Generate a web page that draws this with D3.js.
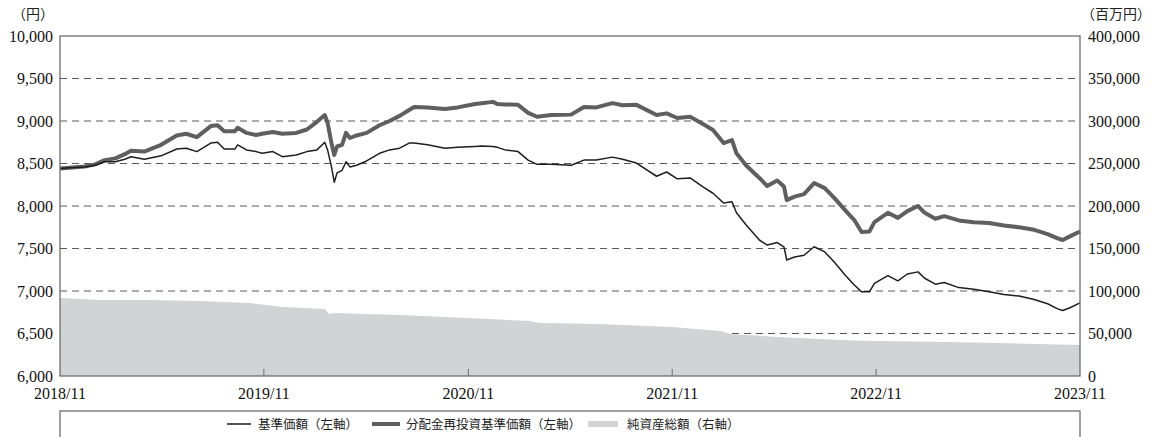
<!DOCTYPE html>
<html>
<head>
<meta charset="utf-8">
<script src="https://cdn.jsdelivr.net/npm/d3@7"></script>
<style>
  body { margin: 0; background: #fff; }
  text { font-family: "Liberation Serif", "DejaVu Serif", serif; fill: #111; }
  .jp { font-family: "Noto Sans CJK JP", sans-serif; fill: #222; }
</style>
</head>
<body>
<script>
var dates = ["2018-11-01","2018-11-18","2018-12-15","2019-01-03","2019-01-20","2019-02-08","2019-02-25","2019-03-08","2019-04-01","2019-05-01",
	"2019-05-29","2019-06-15","2019-07-04","2019-07-29","2019-08-10","2019-08-22","2019-09-10","2019-09-15","2019-10-01","2019-10-18",
	"2019-10-29","2019-11-17","2019-12-04","2019-12-29","2020-01-17","2020-02-04","2020-02-18","2020-02-23","2020-03-01","2020-03-06",
	"2020-03-11","2020-03-20","2020-03-27","2020-04-03","2020-04-15","2020-05-03","2020-05-26","2020-06-13","2020-07-01","2020-07-18",
	"2020-07-27","2020-08-20","2020-09-20","2020-10-13","2020-11-13","2020-11-25","2020-12-15","2020-12-23","2021-01-06","2021-01-29",
	"2021-02-16","2021-03-04","2021-03-29","2021-05-04","2021-05-27","2021-06-18","2021-07-17","2021-08-04","2021-08-29","2021-10-04",
	"2021-10-22","2021-11-10","2021-12-03","2021-12-26","2022-01-13","2022-02-01","2022-02-16","2022-02-24","2022-03-13","2022-04-06",
	"2022-04-20","2022-05-08","2022-05-20","2022-05-25","2022-06-08","2022-06-25","2022-07-13","2022-08-01","2022-08-18","2022-09-06",
	"2022-09-23","2022-10-06","2022-10-20","2022-10-29","2022-11-22","2022-12-10","2022-12-27","2023-01-15","2023-01-27","2023-02-15",
	"2023-03-03","2023-03-29","2023-04-25","2023-05-22","2023-06-18","2023-07-15","2023-08-11","2023-09-04","2023-09-22","2023-10-01",
	"2023-10-13","2023-11-01"];

// 基準価額 (yen)
var navValues = [8440,8450,8460,8480,8520,8520,8550,8580,8550,8590,
	8670,8680,8640,8740,8750,8670,8670,8720,8660,8640,
	8620,8640,8580,8600,8640,8660,8750,8660,8460,8280,
	8390,8420,8520,8460,8480,8530,8620,8660,8680,8740,
	8740,8720,8680,8690,8700,8705,8700,8690,8660,8640,
	8540,8490,8490,8480,8540,8540,8575,8550,8505,8350,
	8400,8320,8330,8225,8150,8035,8050,7920,7780,7600,
	7540,7570,7520,7365,7400,7420,7520,7460,7340,7190,
	7070,6990,6990,7090,7180,7120,7200,7225,7150,7080,
	7100,7040,7020,6990,6960,6940,6900,6850,6790,6770,
	6800,6860];

// 分配金再投資基準価額 (yen)
var reinvValues = [8440,8450,8465,8490,8540,8560,8610,8650,8640,8720,
	8830,8850,8810,8940,8950,8880,8880,8920,8860,8835,
	8850,8870,8850,8860,8900,8990,9070,8980,8740,8600,
	8700,8720,8860,8800,8830,8860,8950,9000,9060,9130,
	9165,9160,9140,9160,9200,9210,9225,9200,9195,9190,
	9095,9050,9070,9075,9165,9160,9210,9185,9190,9070,
	9090,9035,9050,8965,8895,8740,8775,8620,8480,8330,
	8235,8300,8230,8070,8110,8140,8270,8210,8095,7955,
	7835,7695,7700,7810,7920,7860,7940,8000,7920,7850,
	7880,7830,7810,7800,7770,7750,7720,7670,7620,7600,
	7640,7700];

// 純資産総額 (million yen)
var assetDates = ["2018-11-01","2019-01-11","2019-04-09","2019-07-08","2019-10-06","2019-12-04","2020-02-18","2020-02-26","2020-03-06","2020-07-01",
	"2020-11-01","2021-02-20","2021-03-08","2021-06-24","2021-11-01","2022-01-26","2022-02-13","2022-05-11","2022-06-16","2022-08-27",
	"2022-11-01","2023-03-11","2023-06-09","2023-11-01"];
var assetValues = [91800,89400,89400,88200,85900,81200,78800,72900,74100,71800,
	68200,64700,62400,61200,57600,52900,49400,45900,44700,42400,
	41200,40000,38800,36500];

var leftTicks = [6000,6500,7000,7500,8000,8500,9000,9500,10000],
	rightTicks = [0,50000,100000,150000,200000,250000,300000,350000,400000],
	xTickDates = ["2018-11-01","2019-11-01","2020-11-01","2021-11-01","2022-11-01","2023-11-01"],
	legendNames = ["基準価額（左軸）","分配金再投資基準価額（左軸）","純資産総額（右軸）"];

var width = 1157,
	height = 437,
	lPad = 60,
	rPad = 77,
	tPad = 36,
	plotBottom = 376,
	frameColor = "#6e6e6e";

var parse = d3.timeParse("%Y-%m-%d");
var fmt = d3.format(",");

var nav = dates.map(function(d, i) { return {date: parse(d), v: navValues[i]}; });
var reinv = dates.map(function(d, i) { return {date: parse(d), v: reinvValues[i]}; });
var assets = assetDates.map(function(d, i) { return {date: parse(d), v: assetValues[i]}; });

var xScale = d3.scaleTime()
	.domain([parse(xTickDates[0]), parse(xTickDates[xTickDates.length-1])])
	.range([lPad, width - rPad]);
var yLeft = d3.scaleLinear().domain([6000, 10000]).range([plotBottom, tPad]);
var yRight = d3.scaleLinear().domain([0, 400000]).range([plotBottom, tPad]);

var svg = d3.select("body").append("svg")
	.attr("width", width)
	.attr("height", height);

// dashed grid
svg.append("g").selectAll("line")
	.data(leftTicks.slice(1, -1))
	.enter().append("line")
	.attr("x1", lPad).attr("x2", width - rPad)
	.attr("y1", function(d) { return yLeft(d); })
	.attr("y2", function(d) { return yLeft(d); })
	.style("stroke", "#5a5a5a")
	.style("stroke-width", 1)
	.style("stroke-dasharray", "7,5");

// net assets area
svg.append("path")
	.datum(assets)
	.attr("d", d3.area()
		.x(function(d) { return xScale(d.date); })
		.y0(yRight(0))
		.y1(function(d) { return yRight(d.v); }))
	.style("fill", "#d2d3d5");

// lines
svg.append("path")
	.datum(reinv)
	.attr("d", d3.line()
		.x(function(d) { return xScale(d.date); })
		.y(function(d) { return yLeft(d.v); }))
	.style("fill", "none")
	.style("stroke", "#5f5f5f")
	.style("stroke-width", 4)
	.style("stroke-linejoin", "round");

svg.append("path")
	.datum(nav)
	.attr("d", d3.line()
		.x(function(d) { return xScale(d.date); })
		.y(function(d) { return yLeft(d.v); }))
	.style("fill", "none")
	.style("stroke", "#1e1e1e")
	.style("stroke-width", 1.5)
	.style("stroke-linejoin", "round");

// x ticks (short, pointing up)
svg.append("g").selectAll("line")
	.data(xTickDates.slice(1, -1))
	.enter().append("line")
	.attr("x1", function(d) { return xScale(parse(d)); })
	.attr("x2", function(d) { return xScale(parse(d)); })
	.attr("y1", plotBottom).attr("y2", plotBottom - 7)
	.style("stroke", frameColor)
	.style("stroke-width", 1);

// frame
svg.append("rect")
	.attr("x", lPad).attr("y", tPad)
	.attr("width", width - rPad - lPad)
	.attr("height", plotBottom - tPad)
	.style("fill", "none")
	.style("stroke", frameColor)
	.style("stroke-width", 1.3);

// left axis labels
svg.append("g").selectAll("text")
	.data(leftTicks)
	.enter().append("text")
	.attr("x", lPad - 7)
	.attr("y", function(d) { return yLeft(d) + 5.5; })
	.style("text-anchor", "end")
	.style("font-size", "16px")
	.text(function(d) { return fmt(d); });

// right axis labels
svg.append("g").selectAll("text")
	.data(rightTicks)
	.enter().append("text")
	.attr("x", width - rPad + 8)
	.attr("y", function(d) { return yRight(d) + 5.5; })
	.style("text-anchor", "start")
	.style("font-size", "16px")
	.text(function(d) { return fmt(d); });

// x labels
svg.append("g").selectAll("text")
	.data(xTickDates)
	.enter().append("text")
	.attr("x", function(d) { return xScale(parse(d)); })
	.attr("y", 399)
	.style("text-anchor", "middle")
	.style("font-size", "16px")
	.text(function(d) { return d.slice(0, 4) + "/" + d.slice(5, 7); });

// units
svg.append("text").attr("class", "jp")
	.attr("x", 54).attr("y", 19)
	.style("text-anchor", "end")
	.style("font-size", "14px")
	.text("（円）");
svg.append("text").attr("class", "jp")
	.attr("x", 1081).attr("y", 19)
	.style("text-anchor", "start")
	.style("font-size", "14px")
	.text("（百万円）");

// legend
svg.append("rect")
	.attr("x", lPad).attr("y", 411)
	.attr("width", width - rPad - lPad)
	.attr("height", 40)
	.style("fill", "none")
	.style("stroke", frameColor)
	.style("stroke-width", 1.3);

var ly = 424;
svg.append("line")
	.attr("x1", 227).attr("x2", 251).attr("y1", ly).attr("y2", ly)
	.style("stroke", "#1e1e1e").style("stroke-width", 1.5);
svg.append("line")
	.attr("x1", 372).attr("x2", 400).attr("y1", ly).attr("y2", ly)
	.style("stroke", "#5f5f5f").style("stroke-width", 4);
svg.append("rect")
	.attr("x", 588).attr("y", ly - 3).attr("width", 30).attr("height", 6)
	.style("fill", "#d2d3d5");

var legendX = [258, 406, 627];
for (var i = 0; i < legendNames.length; i++) {
	svg.append("text").attr("class", "jp")
		.attr("x", legendX[i]).attr("y", ly + 4.5)
		.style("font-size", "12.5px")
		.text(legendNames[i]);
}
</script>
</body>
</html>
